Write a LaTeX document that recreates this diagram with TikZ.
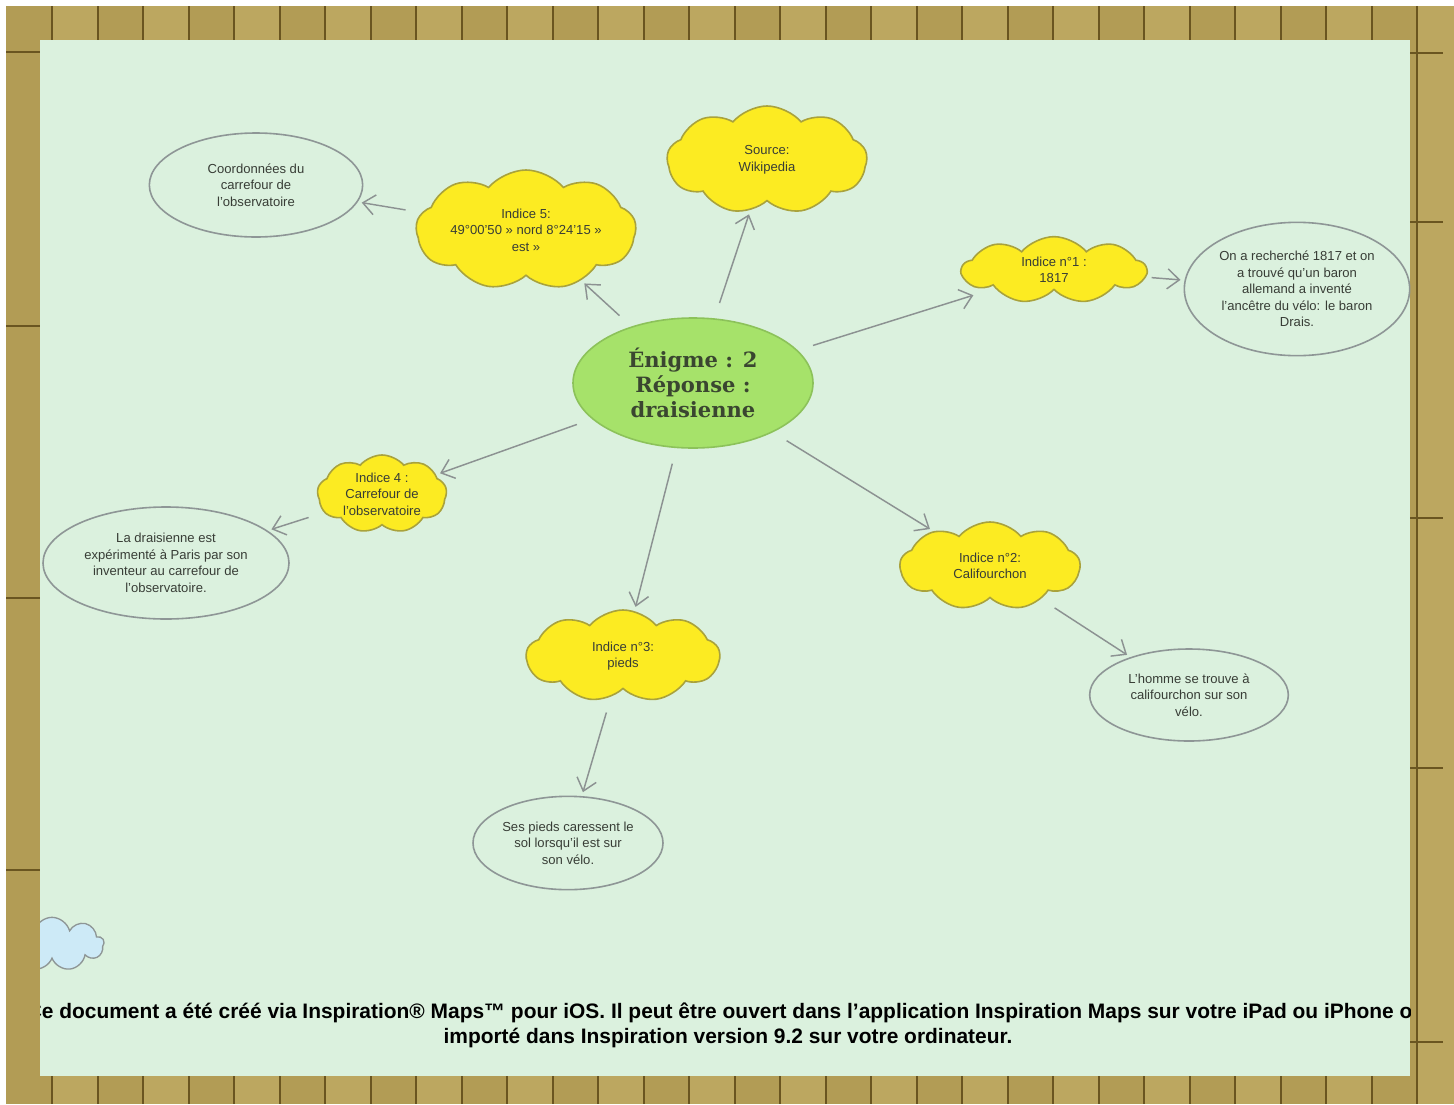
\documentclass[tikz,border=0pt]{standalone}
\usepackage{fontspec}
\setmainfont{Liberation Sans}
\newfontfamily\hubfont{DejaVu Serif}
\usetikzlibrary{arrows.meta,shapes.geometric,shapes.symbols}

\definecolor{wood}{HTML}{B29C55}
\definecolor{woodlight}{HTML}{BCA760}
\definecolor{woodline}{HTML}{6A5520}
\definecolor{panel}{HTML}{DBF1DE}
\definecolor{cloudfill}{HTML}{FCEB22}
\definecolor{clouddraw}{HTML}{A9A23C}
\definecolor{hubfill}{HTML}{A6E26A}
\definecolor{hubdraw}{HTML}{8CC25A}
\definecolor{notedraw}{HTML}{8E9696}
\definecolor{argray}{HTML}{8C9292}
\definecolor{ink}{HTML}{383D36}
\definecolor{hubink}{HTML}{3A4630}
\definecolor{skyfill}{HTML}{CDEAF7}

\begin{document}
\begin{tikzpicture}[
  x=0.75pt, y=-0.75pt,
  clue/.style={cloud,cloud puffs=9,cloud puff arc=100,cloud ignores aspect,
               draw=clouddraw,line width=1.2pt,fill=cloudfill,align=center,
               inner xsep=-22pt,inner ysep=-16pt,text=ink,
               font=\fontsize{9.8}{12.4}\selectfont},
  note/.style={ellipse,draw=notedraw,line width=1.2pt,align=center,
               inner sep=0pt,text=ink,font=\fontsize{9.8}{12.4}\selectfont},
  hub/.style={ellipse,draw=hubdraw,fill=hubfill,line width=1.2pt,
              align=center,text=hubink,
              font=\hubfont\bfseries\fontsize{15.8}{18.75}\selectfont},
  foot/.style={font=\bfseries\fontsize{15.7}{18.75}\selectfont,inner sep=0pt},
  ar/.style={-{Straight Barb[length=9pt,width=15pt]},draw=argray,
             line width=1.1pt,shorten <=12pt,shorten >=3pt},
]
\useasboundingbox (0,0) rectangle (1454,1104);

% wooden frame
\fill[wood] (6,6) rectangle (1443,1104);
\foreach \x in {52,143,...,1443}
  \fill[woodlight] (\x,6) rectangle ++(45.5,1098);
\foreach \x in {52,97.5,...,1443}
  \draw[woodline,line width=1.5pt] (\x,6) -- (\x,1104);
\foreach \y in {52,326,598,870}
  \draw[woodline,line width=1.5pt] (6,\y) -- (40,\y);
\foreach \y in {53,222,518,768,1042}
  \draw[woodline,line width=1.5pt] (1410,\y) -- (1443,\y);
\fill[panel] (40,40) rectangle (1410,1076);

\node[hub,minimum width=180pt,minimum height=97.5pt] (hub) at (693,383)
  {Énigme : 2\\Réponse :\\draisienne};

\node[clue,minimum width=150pt,minimum height=81pt] (src) at (767,160)
  {Source:\\Wikipedia};
\node[clue,minimum width=165pt,minimum height=90pt] (i5) at (526,230)
  {Indice 5:\\49°00'50 » nord 8°24'15 »\\est »};
\node[note,minimum width=160pt,minimum height=78pt] (coord) at (256,185)
  {Coordonnées du\\carrefour de\\l'observatoire};
\node[clue,minimum width=138pt,minimum height=50pt] (i1) at (1054,270)
  {Indice n°1 :\\1817};
\node[note,minimum width=169pt,minimum height=100pt] (drais) at (1297,289)
  {On a recherché 1817 et on\\a trouvé qu'un baron\\allemand a inventé\\l'ancêtre du vélo: le baron\\Drais.};
\node[clue,minimum width=97pt,minimum height=58.5pt] (i4) at (382,494)
  {Indice 4 :\\Carrefour de\\l'observatoire};
\node[note,minimum width=184.5pt,minimum height=84pt] (la) at (166,563)
  {La draisienne est\\expérimenté à Paris par son\\inventeur au carrefour de\\l'observatoire.};
\node[clue,minimum width=135pt,minimum height=66pt] (i2) at (990,566)
  {Indice n°2:\\Califourchon};
\node[note,minimum width=149pt,minimum height=69pt] (homme) at (1189,695)
  {L'homme se trouve à\\califourchon sur son\\vélo.};
\node[clue,minimum width=145pt,minimum height=69pt] (i3) at (623,656)
  {Indice n°3:\\pieds};
\node[note,minimum width=142.5pt,minimum height=70pt] (pieds) at (568,843)
  {Ses pieds caressent le\\sol lorsqu'il est sur\\son vélo.};

\draw[ar] (hub) -- (src);
\draw[ar] (hub) -- (i5);
\draw[ar,shorten >=17pt] (hub) -- (i1);
\draw[ar] (hub) -- (i4);
\draw[ar] (hub) -- (i2);
\draw[ar] (hub) -- (i3);
\draw[ar] (i5) -- (coord);
\draw[ar,shorten <=4pt] (i1) -- (drais);
\draw[ar] (i4) -- (la);
\draw[ar] (i2) -- (homme);
\draw[ar] (i3) -- (pieds);

\begin{scope}
  \clip (40,40) rectangle (1410,1076);
  \node[cloud,cloud puffs=9,draw=notedraw,fill=skyfill,line width=1pt,
        minimum width=78pt,minimum height=40pt] (sky) at (52,944) {};
  \node[foot] (foot1) at (726,1013)
    {Ce document a été créé via Inspiration® Maps™ pour iOS. Il peut être ouvert dans l'application Inspiration Maps sur votre iPad ou iPhone ou};
  \node[foot] (foot2) at (728,1038)
    {importé dans Inspiration version 9.2 sur votre ordinateur.};
\end{scope}
\end{tikzpicture}
\end{document}
